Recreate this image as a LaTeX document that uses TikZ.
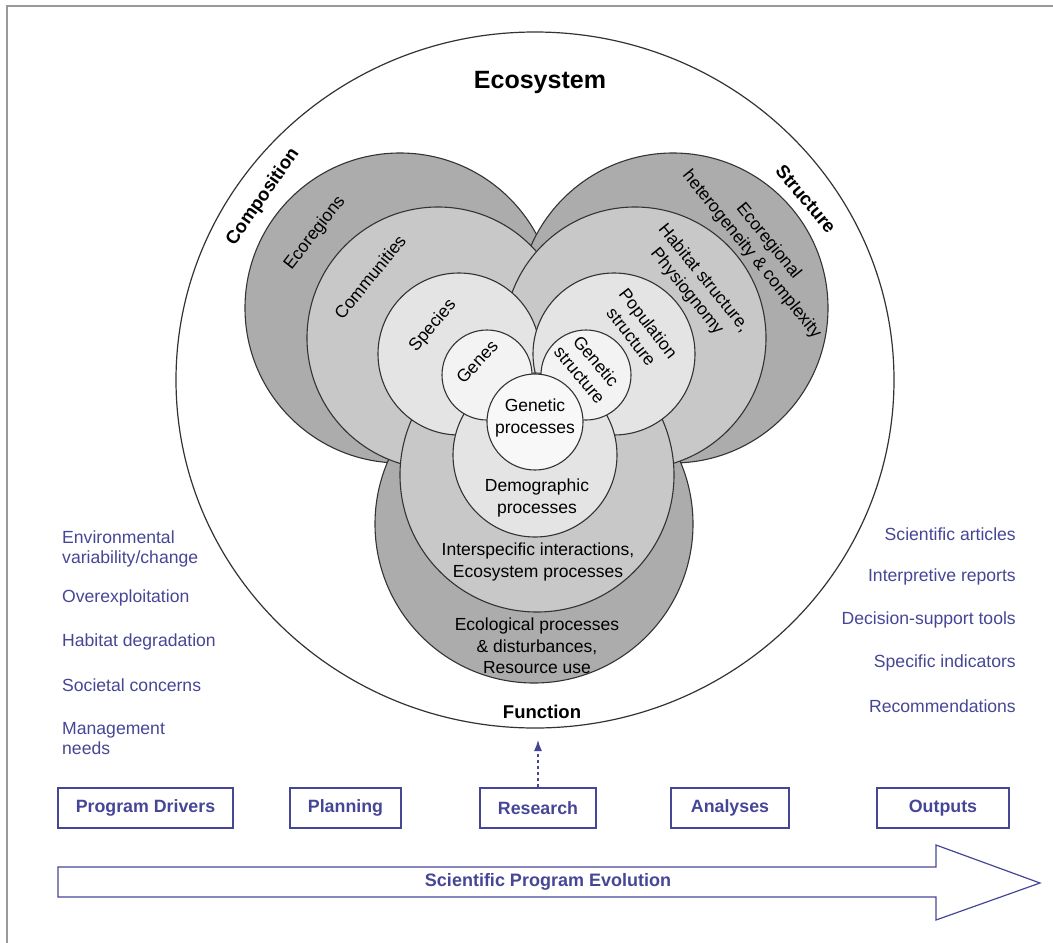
\documentclass[tikz,border=0pt]{standalone}
\usepackage{fontspec}
\setmainfont{Liberation Sans}
\usetikzlibrary{arrows.meta}
\definecolor{progblue}{RGB}{70,70,150}
\definecolor{ringdark}{RGB}{172,172,172}
\definecolor{ringmid}{RGB}{200,200,200}
\definecolor{ringlight}{RGB}{228,228,228}
\definecolor{ringpale}{RGB}{243,243,243}
\tikzset{
  ring/.style={draw=black!80, line width=1.1pt},
  circlabel/.style={font=\fontsize{17.5}{21.5}\selectfont, align=center, inner sep=0pt},
  aspect/.style={font=\fontsize{18.5}{22}\selectfont\bfseries, inner sep=0pt},
  sidetext/.style={font=\fontsize{17.6}{20}\selectfont, text=progblue, align=left, inner sep=0pt},
  stagebox/.style={draw=progblue, line width=1.2pt, minimum height=40pt, inner sep=0pt,
    font=\fontsize{17.8}{20}\selectfont\bfseries, text=progblue}
}
\begin{document}
\begin{tikzpicture}[x=1pt, y=-1pt]
  \useasboundingbox (0,0) rectangle (1053,943);
  \draw [black!40, line width=2.5pt] (7,943) -- (7,6) -- (1053,6);

  % ecosystem
  \draw [line width=1.2pt, black!80] (535,380) ellipse [x radius=359, y radius=348];
  \node [font=\fontsize{25}{28}\selectfont\bfseries] (eco) at (540,82) {Ecosystem};

  % outer rings
  \filldraw [ring, fill=ringdark] (400,308) circle [radius=155];
  \filldraw [ring, fill=ringdark] (673,308) circle [radius=155];
  \filldraw [ring, fill=ringdark] (534,524) circle [radius=159];
  % second rings
  \filldraw [ring, fill=ringmid] (438,338) circle [radius=131];
  \filldraw [ring, fill=ringmid] (635,338) circle [radius=131];
  \filldraw [ring, fill=ringmid] (537,475) circle [radius=137];
  % third rings
  \filldraw [ring, fill=ringlight] (459,354) circle [radius=81];
  \filldraw [ring, fill=ringlight] (614,354) circle [radius=81];
  \filldraw [ring, fill=ringlight] (535,455) circle [radius=82];
  % inner rings
  \filldraw [ring, fill=ringpale] (487,375) circle [radius=45];
  \filldraw [ring, fill=ringpale] (586,375) circle [radius=45];
  \filldraw [ring, fill=ringpale!60!white] (535,422) circle [radius=48];

  % aspects
  \node [aspect, rotate=55] (comp) at (263,197) {Composition};
  \node [aspect, rotate=-50] (struc) at (806,199) {Structure};
  \node [aspect] (func) at (542,712) {Function};

  % composition
  \node [circlabel, rotate=52] (ecoreg) at (315,233) {Ecoregions};
  \node [circlabel, rotate=51] (commun) at (370,277) {Communities};
  \node [circlabel, rotate=50] (species) at (433,326) {Species};
  \node [circlabel, rotate=47] (genes) at (477,362) {Genes};
  % structure
  \node [circlabel, rotate=-51] (hetero) at (760,248) {Ecoregional\\heterogeneity \& complexity};
  \node [circlabel, rotate=-51] (habitat) at (695,285) {Habitat structure,\\Physiognomy};
  \node [circlabel, rotate=-52] (popstr) at (640,330) {Population\\structure};
  \node [circlabel, rotate=-50] (genstr) at (588,368) {Genetic\\structure};
  % function
  \node [circlabel] (genproc) at (535,418) {Genetic\\processes};
  \node [circlabel] (demproc) at (537,498) {Demographic\\processes};
  \node [circlabel] (interproc) at (538,562) {Interspecific interactions,\\Ecosystem processes};
  \node [circlabel] (ecolproc) at (537,646) {Ecological processes\\\& disturbances,\\Resource use};

  % drivers and outputs
  \node [sidetext, anchor=west] (envvar) at (62,549) {Environmental\\variability/change};
  \node [sidetext, anchor=west] (overex) at (62,598) {Overexploitation};
  \node [sidetext, anchor=west] (habdeg) at (62,642) {Habitat degradation};
  \node [sidetext, anchor=west] (societ) at (62,685) {Societal concerns};
  \node [sidetext, anchor=west] (mgmt) at (62,739) {Management\\needs};

  \node [sidetext, anchor=east] (sciart) at (1016,534) {Scientific articles};
  \node [sidetext, anchor=east] (interp) at (1016,577) {Interpretive reports};
  \node [sidetext, anchor=east] (decis) at (1016,620) {Decision-support tools};
  \node [sidetext, anchor=east] (specif) at (1016,663) {Specific indicators};
  \node [sidetext, anchor=east] (recomm) at (1016,706) {Recommendations};

  % program stages
  \node [stagebox, minimum width=175pt] (drivers) at (145.5,808) {Program Drivers};
  \node [stagebox, minimum width=111pt] (planning) at (345.5,808) {Planning};
  \node [stagebox, minimum width=116pt] (research) at (538,808) {Research};
  \node [stagebox, minimum width=118pt] (analyses) at (730,808) {Analyses};
  \node [stagebox, minimum width=132pt] (outputs) at (943,808) {Outputs};

  \coordinate (funcin) at (538,740);
  \draw [progblue, line width=1.2pt, dashed, -{Latex[length=11pt, width=8pt]}] (research.north) -- (funcin);

  % evolution arrow
  \draw [progblue, line width=1.2pt] (58,867) -- (936,867) -- (936,845) -- (1040,883)
    -- (936,920) -- (936,897) -- (58,897) -- cycle;
  \node [font=\fontsize{18}{20}\selectfont\bfseries, text=progblue] (evol) at (548,882) {Scientific Program Evolution};
\end{tikzpicture}
\end{document}
